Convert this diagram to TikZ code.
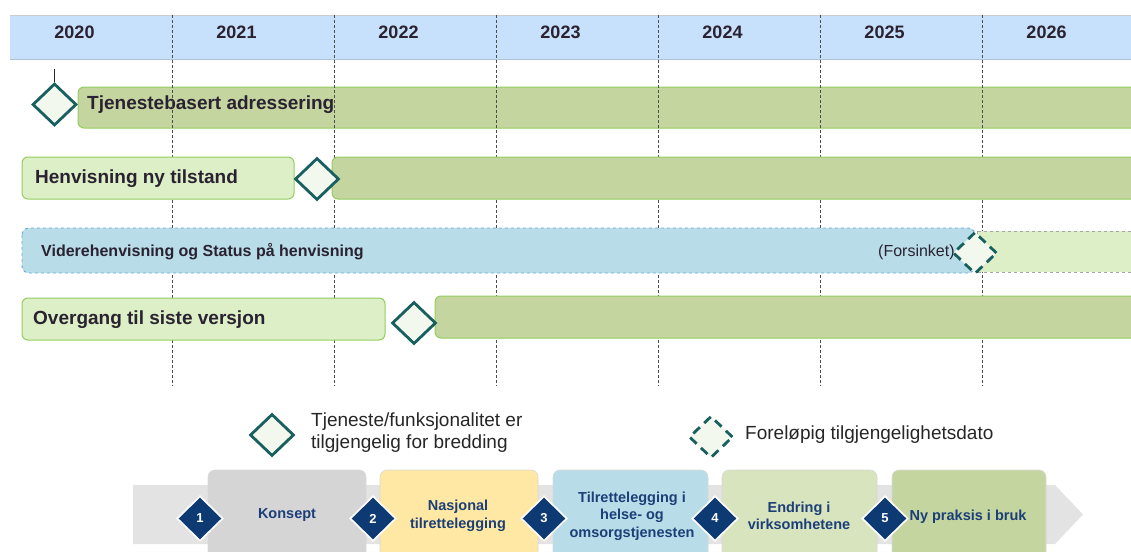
\documentclass[tikz,border=0pt]{standalone}
\usepackage{fontspec}
\setmainfont{Liberation Sans}
\usetikzlibrary{shapes.geometric}
\definecolor{hdrblue}{HTML}{C7E0FB}
\definecolor{hdrline}{HTML}{AFC3D8}
\definecolor{bargreen}{HTML}{C4D5A0}
\definecolor{barlight}{HTML}{DCEFC7}
\definecolor{barline}{HTML}{93CD5E}
\definecolor{barblue}{HTML}{B8DDE8}
\definecolor{blueline}{HTML}{6AA6DE}
\definecolor{msteal}{HTML}{17605F}
\definecolor{msfill}{HTML}{F3F8EE}
\definecolor{txtdark}{HTML}{2A2230}
\definecolor{navy}{HTML}{0E3A74}
\definecolor{navytxt}{HTML}{1C3F78}
\definecolor{bandgrey}{HTML}{E3E3E3}
\definecolor{phgrey}{HTML}{D5D5D5}
\definecolor{phyellow}{HTML}{FFE8A4}
\definecolor{phblue}{HTML}{B8DDE8}
\definecolor{phlight}{HTML}{D7E4BE}
\definecolor{phgreen}{HTML}{C4D59F}

\tikzset{
  msdia/.style={diamond,draw=msteal,fill=msfill,line width=2.8pt,minimum width=44pt,minimum height=42pt,inner sep=0pt,aspect=1},
  msdash/.style={msdia,dash pattern=on 9pt off 6pt},
  barfull/.style={draw=barline,fill=bargreen,line width=1pt,rounded corners=6pt},
  barpart/.style={draw=barline,fill=barlight,line width=1pt,rounded corners=6pt},
  bartext/.style={anchor=west,inner sep=0pt,text=txtdark,font=\bfseries\fontsize{19}{22}\selectfont},
  yeartext/.style={text=txtdark,font=\bfseries\fontsize{18}{22}\selectfont},
  legtext/.style={anchor=west,inner sep=0pt,align=left,text=black!85,font=\fontsize{19}{22}\selectfont},
  phasebox/.style={rounded corners=7pt,draw=white!85!black,line width=0.6pt},
  phasetext/.style={align=center,text=navytxt,font=\bfseries\fontsize{14.5}{17.5}\selectfont},
  phasenum/.style={diamond,fill=navy,draw=white,line width=1.6pt,minimum width=46pt,minimum height=45pt,inner sep=0pt,text=white,font=\bfseries\fontsize{13}{13}\selectfont}
}

\begin{document}
\begin{tikzpicture}[x=1pt,y=-1pt]
  \useasboundingbox (0,0) rectangle (1131,551);
  \clip (0,0) rectangle (1131,551);

  % year header
  \fill [hdrblue] (10,15) rectangle (1140,59);
  \draw [white!80!black] (10,15) -- (1140,15);
  \draw [hdrline] (10,59) -- (1140,59);
  \foreach \yr [count=\k from 0] in {2020,...,2026}
    \node [yeartext] (y\yr) at (74.5+162*\k,32) {\yr};

  % row 1 (the year lines run over this bar)
  \draw [barfull] (78,87) rectangle (1145,128);
  \node [bartext] (tba) at (87,105) {Tjenestebasert adressering};
  \foreach \i in {1,...,6}
    \draw [black!70,dash pattern=on 3pt off 2pt,line width=0.8pt] (10+162*\i,15) -- (10+162*\i,386);
  \coordinate (tick) at (54.5,69);
  \node [msdia] (d1) at (54.5,104.5) {};
  \draw [txtdark,line width=1.4pt] (tick) -- (d1.north);

  % row 2
  \draw [barpart] (22,157) rectangle (294,199);
  \node [bartext] (hnt) at (35,179) {Henvisning ny tilstand};
  \draw [barfull] (332,157) rectangle (1145,199);
  \node [msdia] (d2) at (317,179) {};

  % row 3
  \draw [blueline,fill=barblue,line width=0.9pt,dashed,rounded corners=7pt] (22,228) rectangle (975,273);
  \node [bartext,font=\bfseries\fontsize{16}{19}\selectfont] (vsh) at (41,252) {Viderehenvisning og Status på henvisning};
  \node [anchor=west,inner sep=0pt,text=txtdark,font=\fontsize{16}{19}\selectfont] (fors) at (878,252) {(Forsinket)};
  \draw [black!35,fill=barlight,line width=0.9pt,dashed] (977,231) rectangle (1145,272);
  \node [msdash] (d3) at (975,253) {};

  % row 4
  \draw [barpart] (22,298) rectangle (385,340);
  \node [bartext] (ogv) at (33,320) {Overgang til siste versjon};
  \draw [barfull] (435,296) rectangle (1145,338);
  \node [msdia] (d4) at (414,323) {};

  % legend
  \node [msdia] (lg1) at (272,435) {};
  \node [legtext] (lt1) at (311,433) {Tjeneste/funksjonalitet er\\tilgjengelig for bredding};
  \node [msdash] (lg2) at (711,437) {};
  \node [legtext] (lt2) at (745,435) {Foreløpig tilgjengelighetsdato};

  % phases
  \fill [bandgrey] (133,485) -- (1055,485) -- (1083,514.5) -- (1055,544) -- (133,544) -- cycle;
  \foreach \xl/\xr/\col in {208/366/phgrey,380/538/phyellow,553/708/phblue,722/877/phlight,892/1046/phgreen}
    \draw [phasebox,fill=\col] (\xl,560) -- (\xl,470) -- (\xr,470) -- (\xr,560);
  \node [phasetext] (p1) at (287,515) {Konsept};
  \node [phasetext] (p2) at (458,516) {Nasjonal\\tilrettelegging};
  \node [phasetext] (p3) at (632,516) {Tilrettelegging i\\helse- og\\omsorgstjenesten};
  \node [phasetext] (p4) at (799,516) {Endring i\\virksomhetene};
  \node [phasetext] (p5) at (968,517) {Ny praksis i bruk};
  \foreach \x [count=\n] in {200,373,544,715,885}
    \node [phasenum] (n\n) at (\x,518.5) {\n};
\end{tikzpicture}
\end{document}
